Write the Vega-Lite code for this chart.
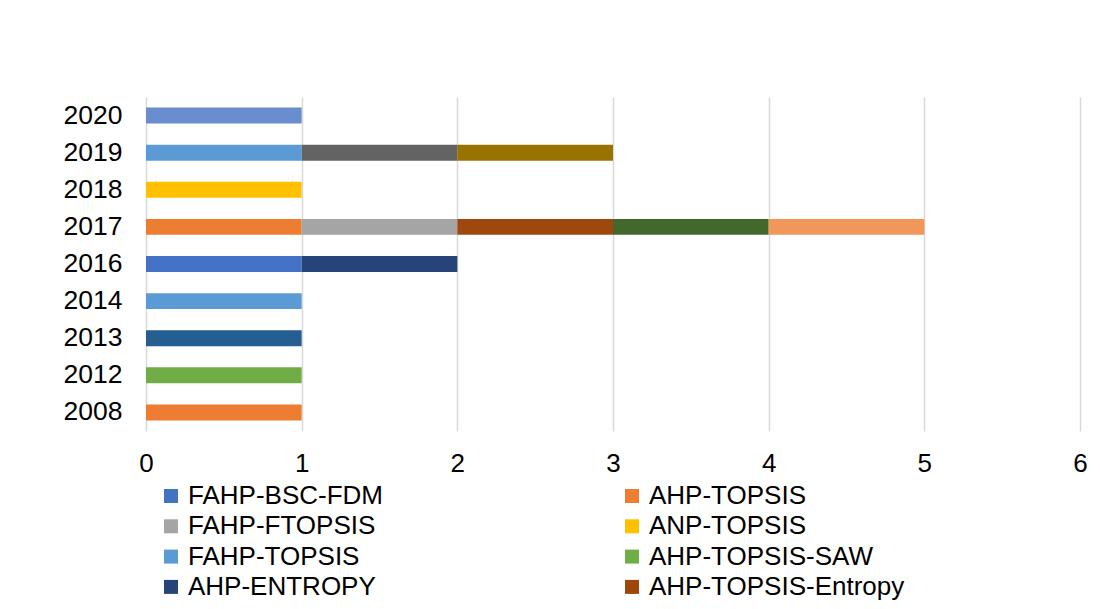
{
  "$schema": "https://vega.github.io/schema/vega-lite/v6.json",
  "autosize": {"type": "none"},
  "width": 934,
  "height": 334,
  "padding": {"left": 146, "top": 97, "right": 20, "bottom": 178},
  "background": "#ffffff",
  "config": {
    "view": {"stroke": null},
    "font": "Liberation Sans",
    "axis": {"labelFont": "Liberation Sans", "labelColor": "#000000"},
    "legend": {"labelFont": "Liberation Sans", "labelColor": "#000000"}
  },
  "data": {
    "values": [
      {"year": "2008", "method": "AHP-TOPSIS", "count": 1, "idx": 2},
      {"year": "2012", "method": "AHP-TOPSIS-SAW", "count": 1, "idx": 6},
      {"year": "2013", "method": "Série 11", "count": 1, "idx": 11},
      {"year": "2014", "method": "FAHP-TOPSIS", "count": 1, "idx": 5},
      {"year": "2016", "method": "FAHP-BSC-FDM", "count": 1, "idx": 1},
      {"year": "2016", "method": "AHP-ENTROPY", "count": 1, "idx": 7},
      {"year": "2017", "method": "AHP-TOPSIS", "count": 1, "idx": 2},
      {"year": "2017", "method": "FAHP-FTOPSIS", "count": 1, "idx": 3},
      {"year": "2017", "method": "AHP-TOPSIS-Entropy", "count": 1, "idx": 8},
      {"year": "2017", "method": "Série 12", "count": 1, "idx": 12},
      {"year": "2017", "method": "Série 14", "count": 1, "idx": 14},
      {"year": "2018", "method": "ANP-TOPSIS", "count": 1, "idx": 4},
      {"year": "2019", "method": "FAHP-TOPSIS", "count": 1, "idx": 5},
      {"year": "2019", "method": "Série 9", "count": 1, "idx": 9},
      {"year": "2019", "method": "Série 10", "count": 1, "idx": 10},
      {"year": "2020", "method": "Série 13", "count": 1, "idx": 13}
    ]
  },
  "mark": {"type": "bar"},
  "encoding": {
    "y": {
      "field": "year",
      "type": "nominal",
      "sort": ["2020", "2019", "2018", "2017", "2016", "2014", "2013", "2012", "2008"],
      "scale": {"paddingInner": 0.57, "paddingOuter": 0.285},
      "axis": {
        "title": null,
        "domain": false,
        "ticks": false,
        "grid": false,
        "labelFontSize": 26.5,
        "labelPadding": 24
      }
    },
    "x": {
      "field": "count",
      "type": "quantitative",
      "stack": "zero",
      "scale": {"domain": [0, 6], "nice": false},
      "axis": {
        "title": null,
        "values": [0, 1, 2, 3, 4, 5, 6],
        "domain": false,
        "ticks": false,
        "grid": true,
        "gridColor": "#d9d9d9",
        "gridWidth": 1.5,
        "labelFontSize": 26,
        "labelPadding": 19,
        "labelFlush": false
      }
    },
    "order": {"field": "idx", "type": "quantitative"},
    "color": {
      "field": "method",
      "type": "nominal",
      "scale": {
        "domain": ["FAHP-BSC-FDM", "FAHP-FTOPSIS", "FAHP-TOPSIS", "AHP-ENTROPY", "AHP-TOPSIS", "ANP-TOPSIS", "AHP-TOPSIS-SAW", "AHP-TOPSIS-Entropy", "Série 9", "Série 10", "Série 11", "Série 12", "Série 13", "Série 14"],
        "range": ["#4472C4", "#A5A5A5", "#5B9BD5", "#264478", "#ED7D31", "#FFC000", "#70AD47", "#9E480E", "#636363", "#997300", "#255E91", "#43682B", "#698ED0", "#F1975A"]
      },
      "legend": {
        "title": null,
        "orient": "none",
        "legendX": 12,
        "legendY": 386,
        "columns": 2,
        "columnPadding": 236,
        "rowPadding": 4.3,
        "padding": 0,
        "symbolType": "square",
        "symbolSize": 196,
        "symbolStrokeWidth": 0,
        "symbolOpacity": 1,
        "labelFontSize": 26,
        "labelOffset": 4,
        "labelLimit": 400,
        "values": ["FAHP-BSC-FDM", "FAHP-FTOPSIS", "FAHP-TOPSIS", "AHP-ENTROPY", "AHP-TOPSIS", "ANP-TOPSIS", "AHP-TOPSIS-SAW", "AHP-TOPSIS-Entropy"]
      }
    }
  }
}
